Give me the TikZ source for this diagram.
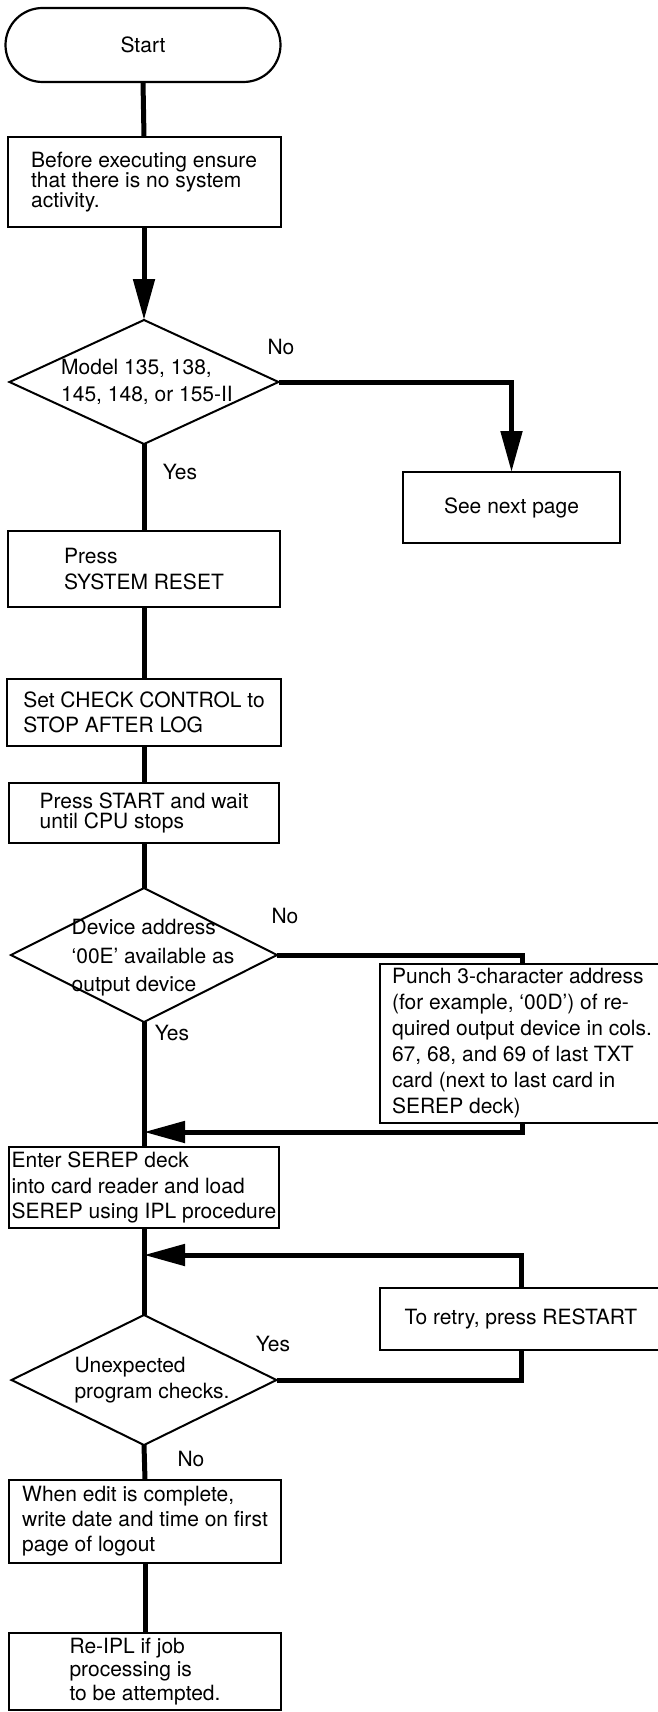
\documentclass[tikz,border=0pt]{standalone}
\usepackage{fontspec}
\setmainfont{TeX Gyre Heros}
\usetikzlibrary{arrows.meta,shapes.geometric}
\begin{document}
\begin{tikzpicture}[x=1pt,y=-1pt,
  every node/.style={outer sep=0pt},
  box/.style={draw, line width=2pt, rectangle, inner sep=0pt, align=left,
              font=\fontsize{21}{25.5}\selectfont},
  tight/.style={font=\fontsize{21}{20}\selectfont},
  terminal/.style={draw, line width=2.2pt, rectangle, rounded corners=37pt,
              inner sep=0pt, font=\fontsize{21}{25.5}\selectfont},
  decision/.style={draw, line width=2pt, diamond, inner sep=0pt},
  dtext/.style={align=left, inner sep=0pt},
  answer/.style={inner sep=0pt, font=\fontsize{21}{25}\selectfont},
  flow/.style={line width=5pt},
  head/.style={-{Triangle[length=41pt,width=21pt]}},
]
% page area
\clip (0,0) rectangle (658,1712);
\fill[white] (0,0) rectangle (658,1712);

% main column
\node[terminal, minimum width=275pt, minimum height=74pt] (start) at (143,45) {Start};
\node[box, tight, minimum width=273pt, minimum height=90pt] (b2) at (144,182)
  {Before executing ensure\\that there is no system\\activity.};
\node[decision, minimum width=269pt, minimum height=124pt] (d1) at (144,382) {};
\node[dtext, font=\fontsize{21}{27}\selectfont, xshift=3pt] (d1t) at (d1)
  {Model 135, 138,\\145, 148, or 155-II};
\node[box, minimum width=217pt, minimum height=71pt] (next) at (511.5,507.5) {See next page};
\node[box, minimum width=272pt, minimum height=76pt] (b3) at (144,569)
  {Press\\SYSTEM RESET};
\node[box, minimum width=274pt, minimum height=67pt] (b4) at (144,712.5)
  {Set CHECK CONTROL to\\STOP AFTER LOG};
\node[box, tight, minimum width=270pt, minimum height=60pt] (b5) at (144,813)
  {Press START and wait\\until CPU stops};
\node[decision, minimum width=266pt, minimum height=134pt] (d2) at (144,955) {};
\node[dtext, font=\fontsize{21}{28.5}\selectfont, xshift=9pt, yshift=-3pt] (d2t) at (d2)
  {Device address\\‘00E’ available as\\output device};
\node[box, font=\fontsize{21}{26}\selectfont, minimum width=284pt, minimum height=159pt] (punch) at (522,1043.5)
  {Punch 3-character address\\(for example, ‘00D’) of re-\\quired output device in cols.\\67, 68, and 69 of last TXT\\card (next to last card in\\SEREP deck)};
\node[box, minimum width=270pt, minimum height=81pt] (b6) at (144,1187.5)
  {Enter SEREP deck\\into card reader and load\\SEREP using IPL procedure};
\node[box, minimum width=282pt, minimum height=62pt] (retry) at (521,1319)
  {To retry, press RESTART};
\node[decision, minimum width=265pt, minimum height=130pt] (d3) at (144,1380) {};
\node[dtext, font=\fontsize{21}{26}\selectfont, xshift=8pt] (d3t) at (d3)
  {Unexpected\\program checks.};
\node[box, font=\fontsize{21}{25}\selectfont, minimum width=272pt, minimum height=83pt] (b7) at (145,1521.5)
  {When edit is complete,\\write date and time on first\\page of logout};
\node[box, font=\fontsize{21}{23.5}\selectfont, minimum width=272pt, minimum height=77pt] (b8) at (145,1671.5)
  {Re-IPL if job\\processing is\\to be attempted.};

% junctions on the main line
\coordinate (j1) at (144,1132);
\coordinate (j2) at (144,1255);

% branch labels
\node[answer] (no1) at (281,347) {No};
\node[answer] (yes1) at (180,472) {Yes};
\node[answer] (no2) at (285,916) {No};
\node[answer] (yes2) at (172,1033) {Yes};
\node[answer] (yes3) at (273,1344) {Yes};
\node[answer] (no3) at (191,1459) {No};

% connectors
\draw[flow] (start.south) -- (b2.north);
\draw[flow, head] (b2.south) -- (d1.north);
\draw[flow, head] (d1.east) -| (next.north);
\draw[flow] (d1.south) -- (b3.north);
\draw[flow] (b3.south) -- (b4.north);
\draw[flow] (b4.south) -- (b5.north);
\draw[flow] (b5.south) -- (d2.north);
\draw[flow] (d2.east) -| (punch.north);
\draw[flow] (d2.south) -- (b6.north);
\draw[flow, head] (punch.south) |- (j1);
\draw[flow] (b6.south) -- (d3.north);
\draw[flow] (d3.east) -| (retry.south);
\draw[flow, head] (retry.north) |- (j2);
\draw[flow] (d3.south) -- (b7.north);
\draw[flow] (b7.south) -- (b8.north);
\end{tikzpicture}
\end{document}
